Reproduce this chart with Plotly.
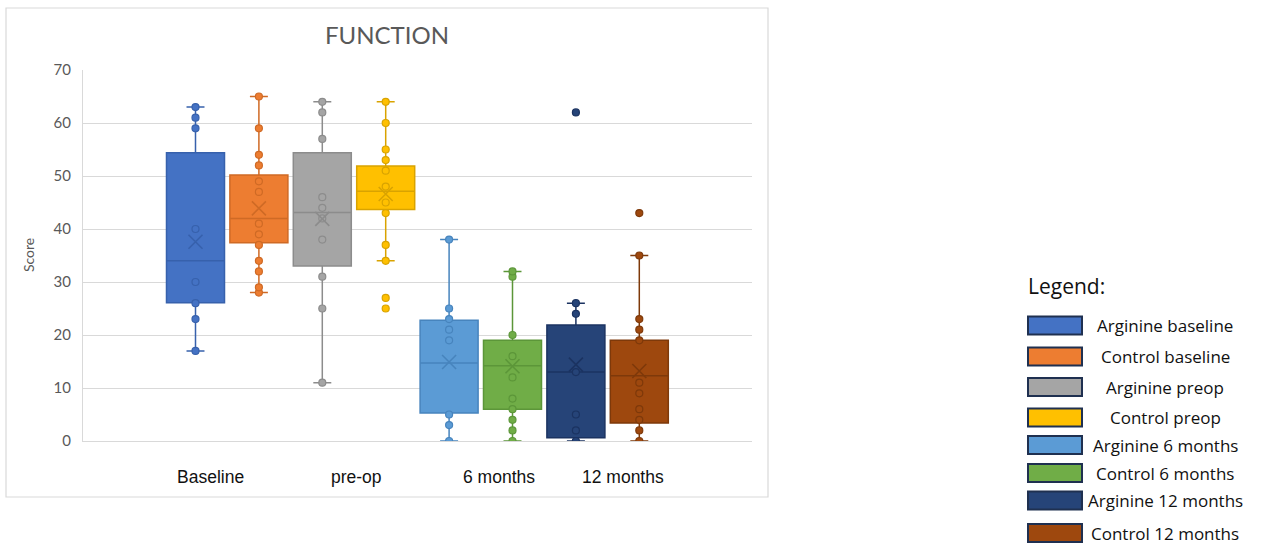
import plotly.graph_objects as go

# ---------------- data ----------------
series_names = ["Arginine baseline", "Control baseline", "Arginine preop", "Control preop",
                "Arginine 6 months", "Control 6 months", "Arginine 12 months", "Control 12 months"]
series_colors = ["#4472C4", "#ED7D31", "#A5A5A5", "#FFC000",
                 "#5B9BD5", "#70AD47", "#264478", "#9E480E"]
edge_colors = ["#3761AC", "#CF6A25", "#8C8C8C", "#D9A300",
               "#4784BD", "#5C9639", "#1B3361", "#7E390A"]

pts_arginine_baseline = [17, 23, 26, 30, 40, 59, 61, 63]
pts_control_baseline = [28, 29, 32, 34, 37, 39, 41, 47, 49, 52, 54, 59, 65]
pts_arginine_preop = [11, 25, 31, 38, 42, 44, 46, 57, 62, 64]
pts_control_preop = [25, 27, 34, 37, 43, 45, 48, 51, 53, 55, 60, 64]
pts_arginine_6m = [0, 3, 5, 19, 21, 23, 25, 38]
pts_control_6m = [0, 2, 4, 6, 8, 12, 16, 20, 31, 32]
pts_arginine_12m = [0, 2, 5, 13, 24, 26, 62]
pts_control_12m = [0, 2, 4, 6, 9, 11, 19, 21, 23, 35, 43]

series_points = [pts_arginine_baseline, pts_control_baseline, pts_arginine_preop, pts_control_preop,
                 pts_arginine_6m, pts_control_6m, pts_arginine_12m, pts_control_12m]

lower_whisker = [17, 28, 11, 34, 0, 0, 0, 0]
q1_values = [26.1, 37.4, 33.0, 43.7, 5.3, 6.0, 0.6, 3.4]
median_values = [34.0, 42.0, 43.1, 47.1, 14.7, 14.2, 13.0, 12.3]
q3_values = [54.4, 50.2, 54.4, 51.9, 22.8, 19.0, 21.9, 19.0]
upper_whisker = [63, 65, 64, 64, 38, 32, 26, 35]
mean_values = [37.6, 43.9, 41.9, 46.6, 14.9, 14.1, 14.4, 13.2]

time_labels = ["Baseline", "pre-op", "6 months", "12 months"]

# ---------------- layout geometry (pixels) ----------------
W, H = 1264, 546
PL, PR, PT, PB = 83, 752, 70, 441          # plot area
FIRST_BOX_PX, BOX_STEP_PX = 195.5, 63.4    # category spacing
BOX_WIDTH_PX = 58

def fx(px):
    return (px - PL) / (PR - PL)

def fy(py):
    return (PB - py) / (PB - PT)

x_lo = -(FIRST_BOX_PX - PL) / BOX_STEP_PX
x_hi = x_lo + (PR - PL) / BOX_STEP_PX
box_w = BOX_WIDTH_PX / BOX_STEP_PX

fig = go.Figure()

for i, name in enumerate(series_names):
    fig.add_trace(go.Box(
        name=name,
        x=[name],
        q1=[q1_values[i]], median=[median_values[i]], q3=[q3_values[i]],
        lowerfence=[lower_whisker[i]], upperfence=[upper_whisker[i]],
        fillcolor=series_colors[i],
        line=dict(color=edge_colors[i], width=1.5),
        width=box_w,
        whiskerwidth=0.31,
        boxpoints=False,
        showlegend=False,
        hoverinfo="skip",
    ))

for i, name in enumerate(series_names):
    pts = series_points[i]
    fig.add_trace(go.Scatter(
        x=[name] * len(pts), y=pts, mode="markers",
        marker=dict(size=7, color=series_colors[i], line=dict(color=edge_colors[i], width=1.2)),
        showlegend=False, hoverinfo="skip",
    ))
    fig.add_trace(go.Scatter(
        x=[name], y=[mean_values[i]], mode="markers",
        marker=dict(symbol="x-thin", size=14, color=edge_colors[i],
                    line=dict(color=edge_colors[i], width=1.6)),
        showlegend=False, hoverinfo="skip",
    ))

shapes = []
annotations = []

# outer chart border
shapes.append(dict(type="rect", xref="paper", yref="paper",
                   x0=fx(6), x1=fx(768), y0=fy(497), y1=fy(8),
                   line=dict(color="#D9D9D9", width=1.2), fillcolor="rgba(0,0,0,0)", layer="below"))

# time labels under the boxes
time_label_px = [210, 356, 499, 623]
for lbl, px in zip(time_labels, time_label_px):
    annotations.append(dict(text=lbl, xref="paper", yref="paper", x=fx(px), y=fy(477),
                            xanchor="center", yanchor="middle", showarrow=False,
                            font=dict(family="Liberation Sans, Arial", size=17.5, color="#111111")))

# separate legend panel
annotations.append(dict(text="Legend:", xref="paper", yref="paper", x=fx(1026), y=fy(286),
                        xanchor="left", yanchor="middle", showarrow=False,
                        font=dict(family="Open Sans", size=21, color="#111111")))
legend_row_py = [325.5, 356.5, 387, 417.5, 445, 473, 500.5, 533]
for i, name in enumerate(series_names):
    cy = legend_row_py[i]
    shapes.append(dict(type="rect", xref="paper", yref="paper",
                       x0=fx(1028), x1=fx(1082), y0=fy(cy + 9), y1=fy(cy - 9),
                       fillcolor=series_colors[i], line=dict(color="#1F3050", width=2)))
    annotations.append(dict(text=name, xref="paper", yref="paper", x=fx(1165), y=fy(cy),
                            xanchor="center", yanchor="middle", showarrow=False,
                            font=dict(family="Open Sans", size=17, color="#111111")))

# y-axis title
annotations.append(dict(text="Score", xref="paper", yref="paper", x=fx(28), y=fy(255),
                        xanchor="center", yanchor="middle", textangle=-90, showarrow=False,
                        font=dict(family="Lato", size=14, color="#595959")))

fig.update_layout(
    width=W, height=H,
    margin=dict(l=PL, r=W - PR, t=PT, b=H - PB, pad=0),
    paper_bgcolor="white", plot_bgcolor="white",
    title=dict(text="FUNCTION", xref="container", yref="container",
               x=387 / W, y=1 - 36 / H, xanchor="center", yanchor="middle",
               font=dict(family="Lato", size=24, color="#595959")),
    boxmode="overlay",
    showlegend=False,
    xaxis=dict(type="category", categoryorder="array", categoryarray=series_names,
               range=[x_lo, x_hi], showticklabels=False, ticks="",
               showgrid=False, zeroline=False, showline=True, linecolor="#D9D9D9", linewidth=1.2),
    yaxis=dict(range=[0, 70], dtick=10, showgrid=True, gridcolor="#D9D9D9", gridwidth=1.2,
               zeroline=False, showline=True, linecolor="#D9D9D9", linewidth=1.2,
               ticks="", ticklabelstandoff=8,
               tickfont=dict(family="Lato", size=15, color="#595959")),
    shapes=shapes, annotations=annotations,
)

fig.write_html("out.html", config={"displayModeBar": False},
               post_script="document.body.style.margin='0';document.body.style.overflow='hidden';")
